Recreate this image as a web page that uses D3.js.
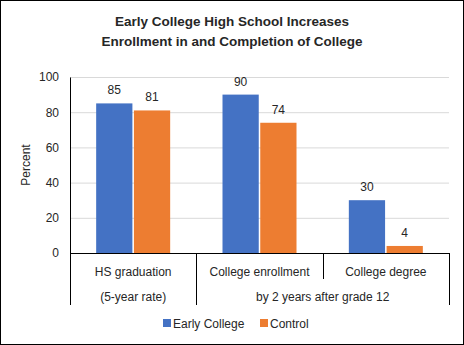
<!DOCTYPE html>
<meta charset="utf-8">
<script src="https://d3js.org/d3.v7.min.js"></script>
<style>
  body { margin: 0; background: #fff; }
  text { font-family: "Liberation Sans", Arial, sans-serif; fill: #262626; }
</style>
<div id="my_dataviz"></div>
<script>

// data
var categories = ["HS graduation", "College enrollment", "College degree"];
var seriesNames = ["Early College", "Control"];
var earlyCollege = [85, 90, 30];
var control = [81, 74, 4];
var subLabels = [
  {text: "(5-year rate)", from: 0, to: 1},
  {text: "by 2 years after grade 12", from: 1, to: 3}
];
var yTicks = [0, 20, 40, 60, 80, 100];
var colors = ["#4472C4", "#ED7D31"];

var W = 464, H = 345;
var margin = {top: 77, right: 15, bottom: 92, left: 70},
    width = W - margin.left - margin.right,
    height = H - margin.top - margin.bottom;

var svg = d3.select("#my_dataviz")
  .append("svg")
    .attr("width", W)
    .attr("height", H);

// outer frame
svg.append("rect")
  .attr("x", 0.5).attr("y", 0.5)
  .attr("width", W - 1).attr("height", H - 1)
  .attr("fill", "none").attr("stroke", "#000");

// title
svg.append("text")
  .attr("x", W / 2).attr("y", 26)
  .attr("text-anchor", "middle")
  .style("font-weight", "bold").style("font-size", "13.5px")
  .text("Early College High School Increases");
svg.append("text")
  .attr("x", W / 2).attr("y", 46)
  .attr("text-anchor", "middle")
  .style("font-weight", "bold").style("font-size", "13.5px")
  .text("Enrollment in and Completion of College");

var g = svg.append("g")
  .attr("transform", "translate(" + margin.left + "," + margin.top + ")");

var x = d3.scaleBand()
  .domain(categories)
  .range([0, width])
  .paddingInner(0)
  .paddingOuter(0);

var x1 = d3.scaleBand()
  .domain(seriesNames)
  .range([0, 74])
  .paddingInner(0.04);

var y = d3.scaleLinear()
  .domain([0, 100])
  .range([height, 0]);

// gridlines
g.selectAll(".grid")
  .data(yTicks.filter(function(d) { return d > 0; }))
  .enter().append("line")
    .attr("x1", 0).attr("x2", width)
    .attr("y1", function(d) { return y(d) + 0.5; })
    .attr("y2", function(d) { return y(d) + 0.5; })
    .attr("stroke", "#d9d9d9");

// y axis
var yAxis = g.append("g")
  .call(d3.axisLeft(y).tickValues(yTicks).tickSize(0).tickPadding(11));
yAxis.select(".domain").attr("stroke", "#000");
yAxis.selectAll("text").style("font-size", "12px").style("fill", "#262626");

svg.append("text")
  .attr("transform", "translate(30," + (margin.top + height / 2) + ") rotate(-90)")
  .attr("text-anchor", "middle")
  .style("font-size", "12px")
  .text("Percent");

// bars
var data = categories.map(function(c, i) {
  return {cat: c, values: [earlyCollege[i], control[i]]};
});

var groups = g.selectAll(".grp")
  .data(data)
  .enter().append("g")
    .attr("transform", function(d) {
      return "translate(" + (x(d.cat) + x.bandwidth() / 2 - 37) + ",0)";
    });

groups.selectAll("rect")
  .data(function(d) { return d.values.map(function(v, j) { return {s: seriesNames[j], v: v, j: j}; }); })
  .enter().append("rect")
    .attr("x", function(d) { return x1(d.s); })
    .attr("y", function(d) { return y(d.v); })
    .attr("width", x1.bandwidth())
    .attr("height", function(d) { return height - y(d.v); })
    .attr("fill", function(d) { return colors[d.j]; });

groups.selectAll(".lbl")
  .data(function(d) { return d.values.map(function(v, j) { return {s: seriesNames[j], v: v}; }); })
  .enter().append("text")
    .attr("x", function(d) { return x1(d.s) + x1.bandwidth() / 2; })
    .attr("y", function(d) { return y(d.v) - 9; })
    .attr("text-anchor", "middle")
    .style("font-size", "12px")
    .text(function(d) { return d.v; });

// category axis (two levels)
g.append("line")
  .attr("x1", 0).attr("x2", width)
  .attr("y1", height + 0.5).attr("y2", height + 0.5)
  .attr("stroke", "#000");

var bounds = [0, 1, 2, 3];
g.selectAll(".tick2")
  .data(bounds)
  .enter().append("line")
    .attr("x1", function(i) { return Math.round(i * x.step()) + 0.5; })
    .attr("x2", function(i) { return Math.round(i * x.step()) + 0.5; })
    .attr("y1", height)
    .attr("y2", function(i) { return (i == 2) ? height + 26 : height + 52; })
    .attr("stroke", "#000");

g.selectAll(".catlbl")
  .data(categories)
  .enter().append("text")
    .attr("x", function(d) { return x(d) + x.bandwidth() / 2; })
    .attr("y", height + 23)
    .attr("text-anchor", "middle")
    .style("font-size", "12px")
    .text(function(d) { return d; });

g.selectAll(".sublbl")
  .data(subLabels)
  .enter().append("text")
    .attr("x", function(d) { return (d.from + d.to) / 2 * x.step(); })
    .attr("y", height + 48)
    .attr("text-anchor", "middle")
    .style("font-size", "12px")
    .text(function(d) { return d.text; });

// legend
var legendX = [163, 260];
var legend = svg.selectAll(".leg")
  .data(seriesNames)
  .enter().append("g")
    .attr("transform", function(d, i) { return "translate(" + legendX[i] + ",319)"; });
legend.append("rect")
  .attr("width", 8).attr("height", 8)
  .attr("fill", function(d, i) { return colors[i]; });
legend.append("text")
  .attr("x", 10).attr("y", 8.5)
  .style("font-size", "12px")
  .text(function(d) { return d; });

</script>
